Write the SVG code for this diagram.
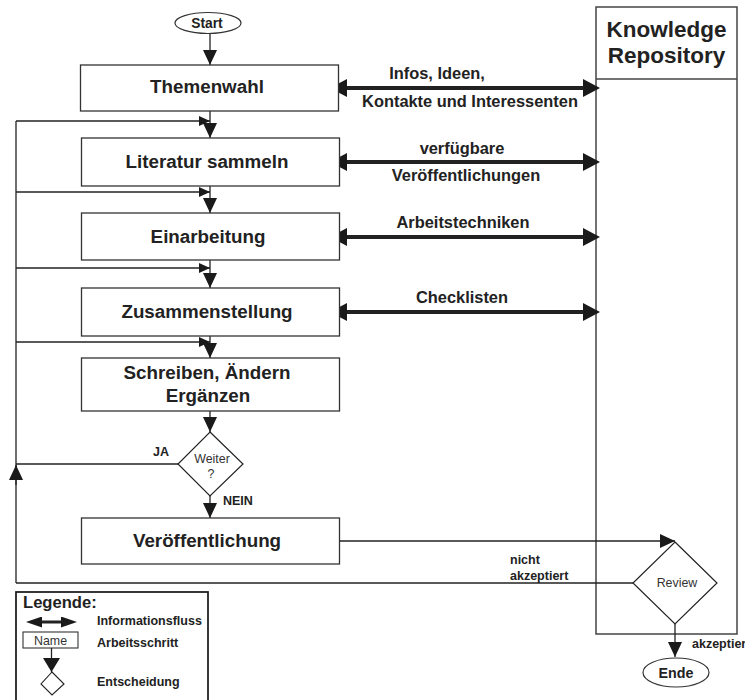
<svg xmlns="http://www.w3.org/2000/svg" width="745" height="700" viewBox="0 0 745 700">
  <style>
    text { font-family: "Liberation Sans", Arial, sans-serif; fill: #222; }
    .box { fill: #fff; stroke: #333; stroke-width: 1.3; }
    .step { font-size: 18.8px; font-weight: bold; text-anchor: middle; }
    .flow { font-size: 16.4px; font-weight: bold; text-anchor: middle; }
    .small { font-size: 12.5px; font-weight: bold; }
    .dec { font-size: 12.4px; fill: #333; text-anchor: middle; }
    .line { fill: none; stroke: #222; stroke-width: 1.3; }
    .info { fill: none; stroke: #222; stroke-width: 4; marker-start: url(#infoHead); marker-end: url(#infoHead); }
  </style>
  <defs>
    <!-- step-to-step arrowhead -->
    <marker id="head" viewBox="0 0 15 14" refX="15" refY="7" markerWidth="15" markerHeight="14" markerUnits="userSpaceOnUse" orient="auto">
      <path d="M0,0 L15,7 L0,14 z" fill="#1a1a1a"/>
    </marker>
    <!-- loop-back arrowhead -->
    <marker id="loopHead" viewBox="0 0 11 10" refX="11" refY="5" markerWidth="11" markerHeight="10" markerUnits="userSpaceOnUse" orient="auto">
      <path d="M0,0 L11,5 L0,10 z" fill="#1a1a1a"/>
    </marker>
    <!-- information flow arrowhead (both ends) -->
    <marker id="infoHead" viewBox="0 0 17 18" refX="7" refY="9" markerWidth="17" markerHeight="18" markerUnits="userSpaceOnUse" orient="auto-start-reverse">
      <path d="M0,0 L17,9 L0,18 z" fill="#1a1a1a"/>
    </marker>
    <marker id="legendHead" viewBox="0 0 16 11" refX="8" refY="5.5" markerWidth="16" markerHeight="11" markerUnits="userSpaceOnUse" orient="auto-start-reverse">
      <path d="M0,0 L16,5.5 L0,11 z" fill="#1a1a1a"/>
    </marker>
    <marker id="legendDown" viewBox="0 0 14 17" refX="14" refY="8.5" markerWidth="14" markerHeight="17" markerUnits="userSpaceOnUse" orient="auto">
      <path d="M0,0 L14,8.5 L0,17 z" fill="#1a1a1a"/>
    </marker>
  </defs>

  <rect width="745" height="700" fill="#fff"/>

  <!-- Knowledge Repository lane -->
  <g id="repository">
    <rect x="596" y="7" width="141" height="627" fill="none" stroke="#444" stroke-width="1.5"/>
    <line x1="596" y1="79" x2="737" y2="79" stroke="#444" stroke-width="1.5"/>
    <text x="666.5" y="37" font-size="22.5" font-weight="bold" text-anchor="middle">Knowledge</text>
    <text x="666.5" y="63" font-size="22.5" font-weight="bold" text-anchor="middle">Repository</text>
  </g>

  <!-- connectors -->
  <g id="connectors">
    <path class="line" d="M210,34 V65" marker-end="url(#head)"/>
    <path class="line" d="M210,111 V138" marker-end="url(#head)"/>
    <path class="line" d="M210,186 V213" marker-end="url(#head)"/>
    <path class="line" d="M210,260 V288" marker-end="url(#head)"/>
    <path class="line" d="M210,336 V358" marker-end="url(#head)"/>
    <path class="line" d="M210,411 V432" marker-end="url(#head)"/>
    <path class="line" d="M210,496 V518" marker-end="url(#head)"/>

    <!-- loop back to earlier steps -->
    <path class="line" d="M16,583 V121"/>
    <path class="line" d="M16,121 H210" marker-end="url(#loopHead)"/>
    <path class="line" d="M16,192 H210" marker-end="url(#loopHead)"/>
    <path class="line" d="M16,268 H210" marker-end="url(#loopHead)"/>
    <path class="line" d="M16,342 H210" marker-end="url(#loopHead)"/>
    <path class="line" d="M178,464 H16"/>
    <path class="line" d="M16,485 V465" marker-end="url(#head)"/>
    <path class="line" d="M633,583 H16"/>

    <!-- publication to review, review to end -->
    <path class="line" d="M339,541 H675" stroke="#333" marker-end="url(#head)"/>
    <path class="line" d="M675,624 V657" marker-end="url(#head)"/>

    <!-- information flows with the repository -->
    <line class="info" x1="340" y1="88" x2="590" y2="88"/>
    <line class="info" x1="340" y1="162" x2="590" y2="162"/>
    <line class="info" x1="340" y1="237" x2="590" y2="237"/>
    <line class="info" x1="340" y1="312" x2="590" y2="312"/>

    <text class="flow" x="437" y="79">Infos, Ideen,</text>
    <text class="flow" x="470" y="107">Kontakte und Interessenten</text>
    <text class="flow" x="462" y="154">verfügbare</text>
    <text class="flow" x="466" y="181">Veröffentlichungen</text>
    <text class="flow" x="463" y="228">Arbeitstechniken</text>
    <text class="flow" x="462" y="303">Checklisten</text>

    <text class="small" x="153" y="456">JA</text>
    <text class="small" x="223" y="505">NEIN</text>
    <text class="small" x="510" y="564">nicht</text>
    <text class="small" x="510" y="580">akzeptiert</text>
    <text class="small" x="692" y="648">akzeptier</text>
  </g>

  <g id="start">
    <ellipse cx="208" cy="23" rx="33" ry="10.5" fill="#fff" stroke="#333" stroke-width="1.2"/>
    <text x="207" y="27.5" font-size="13.8" font-weight="bold" text-anchor="middle">Start</text>
  </g>

  <g id="themenwahl">
    <rect class="box" x="80.5" y="65" width="258" height="46"/>
    <text class="step" x="207" y="93">Themenwahl</text>
  </g>

  <g id="literatur">
    <rect class="box" x="81.5" y="138" width="258" height="48"/>
    <text class="step" x="207" y="168">Literatur sammeln</text>
  </g>

  <g id="einarbeitung">
    <rect class="box" x="81.5" y="213" width="258" height="47"/>
    <text class="step" x="208" y="243">Einarbeitung</text>
  </g>

  <g id="zusammenstellung">
    <rect class="box" x="81.5" y="288" width="258" height="48"/>
    <text class="step" x="207" y="318">Zusammenstellung</text>
  </g>

  <g id="schreiben">
    <rect class="box" x="81.5" y="358" width="258" height="53"/>
    <text class="step" x="207" y="379">Schreiben, Ändern</text>
    <text class="step" x="208" y="402">Ergänzen</text>
  </g>

  <g id="weiter">
    <polygon points="210,432 243,464 210,496 178,464" fill="#fff" stroke="#222" stroke-width="1.2"/>
    <text class="dec" x="212" y="463">Weiter</text>
    <text class="dec" x="211" y="478">?</text>
  </g>

  <g id="veroeffentlichung">
    <rect class="box" x="81.5" y="518" width="258" height="46"/>
    <text class="step" x="207" y="547">Veröffentlichung</text>
  </g>

  <g id="review">
    <polygon points="675,542 717,583 675,624 633,583" fill="#fff" stroke="#222" stroke-width="1.2"/>
    <text class="dec" x="677" y="587">Review</text>
  </g>

  <g id="ende">
    <ellipse cx="676" cy="672.5" rx="33" ry="14.5" fill="#fff" stroke="#333" stroke-width="1.2"/>
    <text x="676" y="677.5" font-size="14.3" font-weight="bold" text-anchor="middle">Ende</text>
  </g>

  <!-- legend -->
  <g id="legende">
    <rect x="16" y="592" width="192" height="112" fill="#fff" stroke="#222" stroke-width="1.8"/>
    <text x="23" y="608" font-size="16.6" font-weight="bold">Legende:</text>
    <line x1="34" y1="622" x2="69" y2="622" stroke="#222" stroke-width="3" marker-start="url(#legendHead)" marker-end="url(#legendHead)"/>
    <text class="small" x="97" y="625" font-size="12.3">Informationsfluss</text>
    <rect x="23" y="632" width="55" height="16" fill="#fff" stroke="#333" stroke-width="1.1"/>
    <text class="dec" x="50.5" y="644.5">Name</text>
    <text class="small" x="97" y="647" font-size="12.3">Arbeitsschritt</text>
    <path class="line" d="M51.5,648 V672" marker-end="url(#legendDown)"/>
    <polygon points="52,672 64,684 52,695 41,684" fill="#fff" stroke="#222" stroke-width="1.1"/>
    <text class="small" x="97" y="686" font-size="12.3">Entscheidung</text>
  </g>
</svg>
